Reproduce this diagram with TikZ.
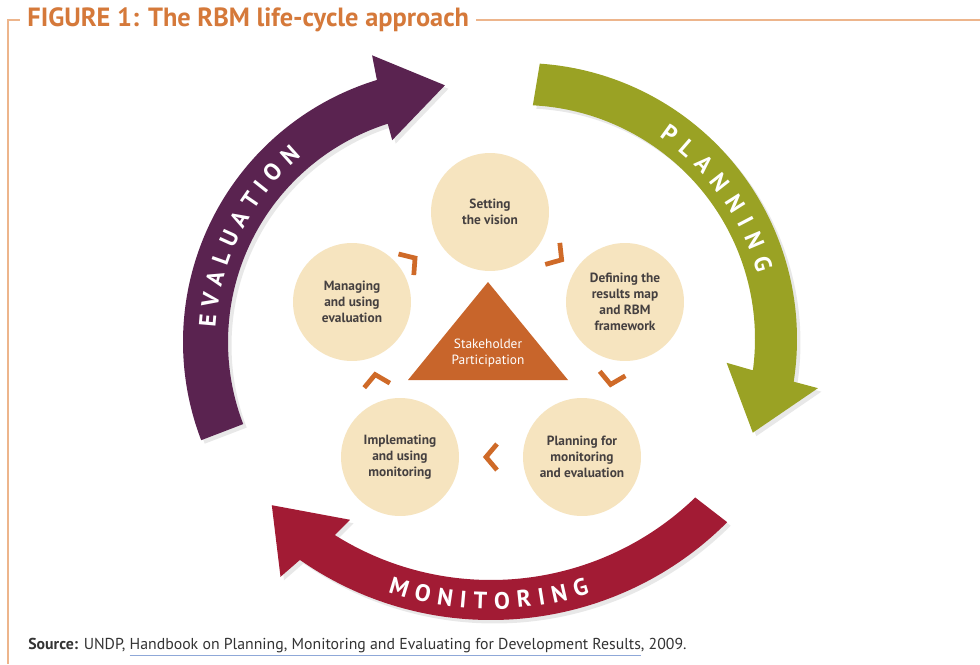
\documentclass[tikz,border=0pt]{standalone}
\usepackage{fontspec}
\setmainfont{PT Sans}
\usetikzlibrary{calc, decorations.text, shadows}

\definecolor{evalcol}{HTML}{5A2350}
\definecolor{plancol}{HTML}{9AA224}
\definecolor{moncol}{HTML}{A21B34}
\definecolor{stagefill}{HTML}{F6E4BF}
\definecolor{stagetext}{HTML}{454040}
\definecolor{chevcol}{HTML}{CF6A28}
\definecolor{stakecol}{HTML}{C8652B}
\definecolor{titlecol}{HTML}{D5793A}
\definecolor{framecol}{HTML}{EDB58C}
\definecolor{linkcol}{HTML}{8FA8D8}

\tikzset{
    x=0.02cm, y=0.02cm, % one unit is one pixel of the original figure
    stage/.style={circle, fill=stagefill, minimum size=2.36cm, inner sep=0pt, align=center,
        text=stagetext, font=\fontsize{7.6}{9}\selectfont\bfseries}, % the five beige steps
    bigarrow/.style={drop shadow={opacity=0.18, shadow xshift=0.7mm, shadow yshift=-0.7mm}}, % the three curved arrows
    arclabel/.style={decorate, decoration={text along path, text={|\fontsize{13.5}{15}\selectfont\bfseries|#1},
        text align=fit to path, text color=white}}, % white letters along an arrow
    chev/.pic={\draw[chevcol, line width=2.7pt, miter limit=4] (-6,13) -- (5,0) -- (-6,-13);}, % small orange chevron
    frameline/.style={framecol, line width=0.8pt},
}

\begin{document}
\begin{tikzpicture}
    \useasboundingbox[fill=white] (0,0) rectangle (980,664);

    % frame and title
    \node[anchor=west, inner xsep=4pt, text=titlecol, font=\fontsize{15}{17}\selectfont\bfseries] (title) at (20,644) {FIGURE 1: The RBM life-cycle approach};
    \draw[frameline] (8,0) -- (8,644) -- (title.west);
    \draw[frameline] (title.east) -- (980,644);

    % centres of the three arcs
    \coordinate (E0) at (457,322);
    \coordinate (P0) at (521,325);
    \coordinate (M0) at (491,378);

    % evaluation arrow
    \fill[evalcol, bigarrow] ($(E0)+(201:274)$) arc[start angle=201, end angle=107, radius=274]
        -- ($(E0)+(106.5:299)$) -- ($(E0)+(92.7:257)$) -- ($(E0)+(107.8:212)$)
        -- ($(E0)+(107.6:229)$) arc[start angle=107.6, end angle=201, radius=229] -- cycle;
    % planning arrow
    \fill[plancol, bigarrow] ($(P0)+(86.1:276)$) arc[start angle=86.1, end angle=-8.9, radius=276]
        -- ($(P0)+(-9.4:301)$) -- ($(P0)+(-22:250)$) -- ($(P0)+(-6.6:207)$)
        -- ($(P0)+(-7.7:234)$) arc[start angle=-7.7, end angle=87.1, radius=234] -- cycle;
    % monitoring arrow
    \fill[moncol, bigarrow] ($(M0)+(315:334)$) arc[start angle=315, end angle=235.1, radius=334]
        -- ($(M0)+(234.1:359)$) -- ($(M0)+(225:310)$) -- ($(M0)+(238.9:273)$)
        -- ($(M0)+(237.9:294)$) arc[start angle=237.9, end angle=314, radius=294] -- cycle;

    \path[arclabel=EVALUATION] ($(E0)+(176.5:242)$) arc[start angle=176.5, end angle=130, radius=242];
    \path[arclabel=PLANNING] ($(P0)+(55.7:245)$) arc[start angle=55.7, end angle=15.5, radius=245];
    \path[arclabel=MONITORING] ($(M0)+(251.4:323)$) arc[start angle=251.4, end angle=287.8, radius=323];

    % the five steps
    \node[stage] (set) at (490,452) {Setting\\the vision};
    \node[stage] (def) at (625,362) {Defining the\\results map\\and RBM\\framework};
    \node[stage] (pla) at (582,207) {Planning for\\monitoring\\and evaluation};
    \node[stage] (imp) at (400,207) {Implemating\\and using\\monitoring};
    \node[stage] (man) at (352,362) {Managing\\and using\\evaluation};

    % chevrons between the steps
    \pic[rotate=-34] at ($(set)!.5!(def)$) {chev};
    \pic[rotate=-100] at ($(def)!.5!(pla)+(8,0)$) {chev};
    \pic[rotate=180] at ($(pla)!.5!(imp)$) {chev};
    \pic[rotate=100] at ($(imp)!.5!(man)$) {chev};
    \pic[rotate=36] at ($(man)!.5!(set)+(-10,-4)$) {chev};

    % stakeholder triangle
    \fill[stakecol] (488,382) -- (408,284) -- (568,284) -- cycle;
    \node[text=white, align=center, font=\fontsize{7.6}{9}\selectfont] (stake) at (488,311) {Stakeholder\\Participation};

    % source line
    \node[anchor=west, inner sep=0pt, text=black!80, font=\fontsize{9}{10}\selectfont] (src) at (28,17)
        {\textbf{Source:} UNDP, {\color{linkcol}\underline{\color{black!80}Handbook on Planning, Monitoring and Evaluating for Development Results}}, 2009.};
\end{tikzpicture}
\end{document}
